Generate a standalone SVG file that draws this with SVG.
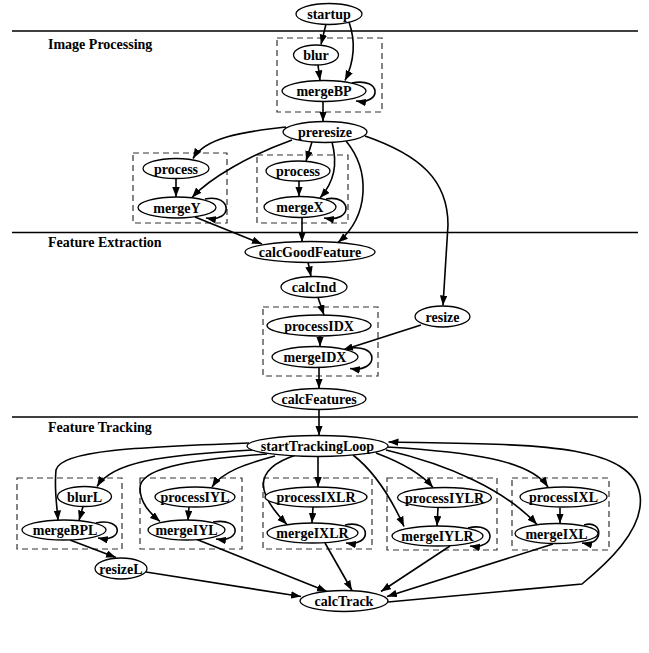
<svg xmlns="http://www.w3.org/2000/svg" width="649" height="653" viewBox="0 0 649 653">
<style>
.n ellipse{fill:#fff;stroke:#000;stroke-width:1.3}
.n text,.lbl{font-family:"Liberation Serif","Times New Roman",serif;font-weight:bold;font-size:14px;text-anchor:middle;fill:#000}
.lbl{text-anchor:start}
.sep{stroke:#000;stroke-width:1.5}
.box{fill:none;stroke:#333;stroke-width:1.2;stroke-dasharray:6,4}
#edges path{fill:none;stroke:#000;stroke-width:1.6;marker-end:url(#ah)}
</style>
<defs>
<marker id="ah" markerUnits="userSpaceOnUse" markerWidth="11" markerHeight="8" refX="10" refY="3.75" orient="auto">
<path d="M0,0 L10,3.75 L0,7.5 z" fill="#000"/>
</marker>
</defs>
<rect width="649" height="653" fill="#fff"/>
<g id="separators">
<line class="sep" x1="12" y1="31" x2="638" y2="31"/>
<line class="sep" x1="12" y1="232.5" x2="638" y2="232.5"/>
<line class="sep" x1="12" y1="417" x2="638" y2="417"/>
<text class="lbl" x="48" y="49">Image Processing</text>
<text class="lbl" x="48" y="247">Feature Extraction</text>
<text class="lbl" x="48" y="432">Feature Tracking</text>
</g>
<g id="clusters">
<rect class="box" x="277" y="38" width="105" height="74"/>
<rect class="box" x="133" y="153" width="94" height="70"/>
<rect class="box" x="257" y="155" width="91" height="68"/>
<rect class="box" x="263" y="307" width="115" height="69"/>
<rect class="box" x="17" y="478" width="105" height="71"/>
<rect class="box" x="140" y="478" width="102" height="71"/>
<rect class="box" x="263" y="478" width="109" height="71"/>
<rect class="box" x="387" y="478" width="110" height="72"/>
<rect class="box" x="512" y="478" width="97" height="72"/>
</g>
<g id="edges">
<path d="M326,24 L321,44.5"/>
<path d="M349,22 C356,42 354,62 345,80.5"/>
<path d="M318,65 L320,80.5"/>
<path d="M352,83 C382,77 382,105 356,101"/>
<path d="M323,101.5 L323,121.5"/>
<path d="M286,127 C240,132 205,138 193,158.5"/>
<path d="M292,140 C250,155 210,178 192,197.5"/>
<path d="M176,178.5 L176,197"/>
<path d="M205,199 C232,193 234,223 206,218"/>
<path d="M312,142 L306,161"/>
<path d="M332,142 C338,165 334,182 320,198"/>
<path d="M299,181 L299,196.5"/>
<path d="M326,199 C352,194 354,223 324,218"/>
<path d="M346,141 C370,170 370,215 338,242.5"/>
<path d="M302,217.5 L302,242"/>
<path d="M195,217 L262,244"/>
<path d="M365,136 C420,155 448,180 448,225 L443,305.5"/>
<path d="M308,262 L311,276.5"/>
<path d="M318,297.5 L324,315"/>
<path d="M320,336 L320,346.5"/>
<path d="M345,349 C380,341 380,373 350,368.5"/>
<path d="M421,325 L343,350"/>
<path d="M319,367.5 L319,388.5"/>
<path d="M319,409.5 L319,435.5"/>
<path d="M249,443 C140,447 60,450 56,470 C54,490 57,505 58,520.5"/>
<path d="M253,450 C160,455 112,462 97,486.5"/>
<path d="M267,454 C180,460 140,470 140,488 C140,503 150,513 160,521.5"/>
<path d="M275,456 C245,464 222,472 212,487"/>
<path d="M296,455 C250,470 258,495 287,524.5"/>
<path d="M318,456.5 L318,487"/>
<path d="M353,455 C375,472 392,500 404,526.5"/>
<path d="M376,453 C400,462 420,472 433,487.5"/>
<path d="M386,450 C450,465 505,490 537,524.5"/>
<path d="M387,447 C470,452 530,460 548,487"/>
<path d="M83,506.5 L79,520.5"/>
<path d="M96,523 C124,517 124,543 98,538"/>
<path d="M189,507 L188,520.5"/>
<path d="M213,522 C242,517 242,543 216,539"/>
<path d="M313,507 L312,523"/>
<path d="M345,525 C372,519 372,547 346,543"/>
<path d="M438,508 L437,526"/>
<path d="M468,528 C497,521 497,550 470,546"/>
<path d="M560,507.5 L560,523.5"/>
<path d="M584,525 C604,519 604,547 582,543"/>
<path d="M70,540 L116,557.5"/>
<path d="M146,572 L301,596.5"/>
<path d="M197,539.5 L327,591.5"/>
<path d="M325,543 L352,590.5"/>
<path d="M450,546 L381,591.5"/>
<path d="M553,544 L387,596.5"/>
<path d="M388,602 L582,584 C605,565 645,530 640,495 C632,440 520,445 388.5,442"/>
</g>
<g id="startup" class="n"><ellipse cx="329" cy="14" rx="33" ry="10.5"/><text x="329" y="19">startup</text></g>
<g id="blur" class="n"><ellipse cx="316" cy="55" rx="22.5" ry="10"/><text x="316" y="60">blur</text></g>
<g id="mergeBP" class="n"><ellipse cx="324" cy="91" rx="42" ry="10.5"/><text x="324" y="96">mergeBP</text></g>
<g id="preresize" class="n"><ellipse cx="325" cy="132" rx="42" ry="10.5"/><text x="325" y="137">preresize</text></g>
<g id="processY" class="n"><ellipse cx="176" cy="168.5" rx="33" ry="10"/><text x="176" y="173.5">process</text></g>
<g id="mergeY" class="n"><ellipse cx="177" cy="207.5" rx="39" ry="10.5"/><text x="177" y="212.5">mergeY</text></g>
<g id="processX" class="n"><ellipse cx="298" cy="171" rx="32" ry="10"/><text x="298" y="176">process</text></g>
<g id="mergeX" class="n"><ellipse cx="300" cy="207" rx="36" ry="10.5"/><text x="300" y="212">mergeX</text></g>
<g id="calcGoodFeature" class="n"><ellipse cx="310" cy="252" rx="65" ry="10.5"/><text x="310" y="257">calcGoodFeature</text></g>
<g id="calcInd" class="n"><ellipse cx="314" cy="287" rx="33" ry="10.5"/><text x="314" y="292">calcInd</text></g>
<g id="processIDX" class="n"><ellipse cx="319" cy="325.5" rx="52" ry="10.5"/><text x="319" y="330.5">processIDX</text></g>
<g id="mergeIDX" class="n"><ellipse cx="315" cy="357" rx="43" ry="10.5"/><text x="315" y="362">mergeIDX</text></g>
<g id="resize" class="n"><ellipse cx="442.5" cy="316.5" rx="27.5" ry="10.5"/><text x="442.5" y="321.5">resize</text></g>
<g id="calcFeatures" class="n"><ellipse cx="319" cy="399" rx="47" ry="10.5"/><text x="319" y="404">calcFeatures</text></g>
<g id="startTrackingLoop" class="n"><ellipse cx="317.5" cy="446" rx="70.5" ry="10.5"/><text x="317.5" y="451">startTrackingLoop</text></g>
<g id="blurL" class="n"><ellipse cx="84.5" cy="496.5" rx="27" ry="10"/><text x="84.5" y="501.5">blurL</text></g>
<g id="mergeBPL" class="n"><ellipse cx="64" cy="530" rx="42" ry="10"/><text x="65" y="535">mergeBPL</text></g>
<g id="processIYL" class="n"><ellipse cx="195" cy="497" rx="40" ry="10"/><text x="195" y="502">processIYL</text></g>
<g id="mergeIYL" class="n"><ellipse cx="186.5" cy="530" rx="38.5" ry="10"/><text x="186.5" y="535">mergeIYL</text></g>
<g id="processIXLR" class="n"><ellipse cx="316" cy="497" rx="51" ry="10"/><text x="316" y="502">processIXLR</text></g>
<g id="mergeIXLR" class="n"><ellipse cx="312.5" cy="533" rx="45.5" ry="10"/><text x="312.5" y="538">mergeIXLR</text></g>
<g id="processIYLR" class="n"><ellipse cx="444.5" cy="497.5" rx="47" ry="10"/><text x="444.5" y="502.5">processIYLR</text></g>
<g id="mergeIYLR" class="n"><ellipse cx="437.5" cy="536" rx="45.5" ry="10"/><text x="437.5" y="541">mergeIYLR</text></g>
<g id="processIXL" class="n"><ellipse cx="563.5" cy="497" rx="43.5" ry="10"/><text x="563.5" y="502">processIXL</text></g>
<g id="mergeIXL" class="n"><ellipse cx="556.5" cy="533.5" rx="41.5" ry="10"/><text x="556.5" y="538.5">mergeIXL</text></g>
<g id="resizeL" class="n"><ellipse cx="121" cy="568.5" rx="26" ry="10.5"/><text x="121" y="573.5">resizeL</text></g>
<g id="calcTrack" class="n"><ellipse cx="344" cy="601" rx="44" ry="10.5"/><text x="344" y="606">calcTrack</text></g>
</svg>
